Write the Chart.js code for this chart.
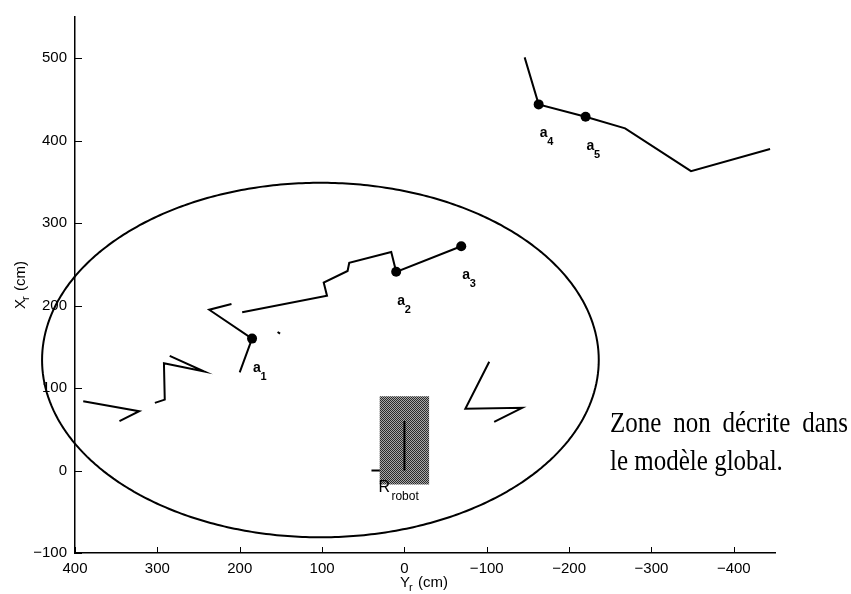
<!DOCTYPE html>
<html>
<head>
<meta charset="utf-8">
<script src="https://cdn.jsdelivr.net/npm/chart.js@4/dist/chart.umd.min.js"></script>
<style>
  html, body { margin: 0; padding: 0; background: #fff; }
  canvas { display: block; }
</style>
</head>
<body>
<canvas id="c" width="851" height="594"></canvas>
<script>
// Local map: Y_r (horizontal, reversed) vs X_r (vertical), in cm.
const xTicks = [400, 300, 200, 100, 0, -100, -200, -300, -400];
const yTicks = [-100, 0, 100, 200, 300, 400, 500];

// Wall segments seen by the sensor (Y_r, X_r)
const segLeftZig   = [[390, 84], [322, 72], [346, 60]];
const segMidZig    = [[303, 82], [291, 86], [292, 130], [243, 120], [285, 139]];
const segNearA1    = [[210, 202], [237, 195], [185, 160], [200, 119]];
const segSpeck     = [[154, 168], [151, 166]];
const segStairs    = [[197, 192], [94, 212], [98, 228], [69, 242], [67, 252], [16, 265], [10, 241], [-69, 272]];
const segRightZig  = [[-103, 132], [-74, 75], [-143, 76], [-109, 59]];
const segFar       = [[-146, 501], [-163, 444], [-220, 429], [-268, 415], [-348, 363], [-444, 390]];

// Landmarks a1..a5
const landmarks = [[185, 160], [10, 241], [-69, 272], [-163, 444], [-220, 429]];
const landmarkNames = ['1', '2', '3', '4', '5'];

// Sensor range ellipse: centre and semi-axes
const ellipseCentre = [102, 134];
const ellipseRadii = [338, 215];

// Robot footprint and its frame
const robotBox = [[30, -17], [-30, -17], [-30, 90], [30, 90], [30, -17]];
const robotAxisX = [[0, 0], [0, 60]];
const robotAxisY = [[40, 0], [0, 0]];

const toPts = arr => arr.map(([x, y]) => ({ x, y }));

function ellipsePoints() {
  const pts = [];
  for (let i = 0; i <= 240; i++) {
    const t = (i / 240) * Math.PI * 2;
    pts.push([ellipseCentre[0] + ellipseRadii[0] * Math.cos(t),
              ellipseCentre[1] + ellipseRadii[1] * Math.sin(t)]);
  }
  return pts;
}

// stippled grey fill for the robot body
function stipple() {
  const p = document.createElement('canvas');
  p.width = 2; p.height = 2;
  const g = p.getContext('2d');
  g.fillStyle = '#a8a8a8'; g.fillRect(0, 0, 2, 2);
  g.fillStyle = '#2a2a2a'; g.fillRect(0, 0, 1, 1); g.fillRect(1, 1, 1, 1);
  return g.createPattern(p, 'repeat');
}

const lineDs = (data, order, extra) => Object.assign({
  data: toPts(data), showLine: true, borderColor: '#000', borderWidth: 2,
  pointRadius: 0, fill: false, tension: 0, order, clip: false
}, extra || {});

const SANS = '"Liberation Sans", Arial, Helvetica, sans-serif';
const SERIF = '"Liberation Serif", "Times New Roman", serif';

// inward tick marks, axis titles and annotations
const decorations = {
  id: 'decorations',
  afterDraw(chart) {
    const ctx = chart.ctx;
    const xs = chart.scales.x, ys = chart.scales.y;
    const area = chart.chartArea;
    ctx.save();
    ctx.strokeStyle = '#000';
    ctx.lineWidth = 1;
    xTicks.forEach(v => {
      const px = Math.round(xs.getPixelForValue(v)) + 0.5;
      ctx.beginPath(); ctx.moveTo(px, area.bottom); ctx.lineTo(px, area.bottom - 6); ctx.stroke();
    });
    yTicks.forEach(v => {
      const py = Math.round(ys.getPixelForValue(v)) + 0.5;
      ctx.beginPath(); ctx.moveTo(area.left, py); ctx.lineTo(area.left + 7, py); ctx.stroke();
    });

    ctx.fillStyle = '#000';
    ctx.textBaseline = 'alphabetic';
    ctx.textAlign = 'left';

    // axis title with subscript: main, sub, rest
    function subTitle(main, sub, rest, size) {
      ctx.font = size + 'px ' + SANS;
      const wm = ctx.measureText(main).width;
      const wr = ctx.measureText(rest).width;
      ctx.font = Math.round(size * 0.7) + 'px ' + SANS;
      const ws = ctx.measureText(sub).width;
      const total = wm + ws + wr;
      let x = -total / 2;
      ctx.font = size + 'px ' + SANS;
      ctx.fillText(main, x, 0);
      x += wm;
      ctx.font = Math.round(size * 0.7) + 'px ' + SANS;
      ctx.fillText(sub, x - 1, 4);
      x += ws;
      ctx.font = size + 'px ' + SANS;
      ctx.fillText(rest, x, 0);
    }
    ctx.save();
    ctx.translate((area.left + area.right) / 2 - 1, 587);
    subTitle('Y', 'r', ' (cm)', 15);
    ctx.restore();
    ctx.save();
    ctx.translate(25, (area.top + area.bottom) / 2);
    ctx.rotate(-Math.PI / 2);
    subTitle('X', 'r', ' (cm)', 15);
    ctx.restore();

    // landmark labels
    landmarks.forEach(([x, y], i) => {
      const px = xs.getPixelForValue(x), py = ys.getPixelForValue(y);
      ctx.font = 'bold 14px ' + SANS;
      ctx.fillText('a', px + 1, py + 33);
      ctx.font = 'bold 11px ' + SANS;
      ctx.fillText(landmarkNames[i], px + 8.5, py + 41);
    });

    // robot frame label
    const ox = xs.getPixelForValue(0), oy = ys.getPixelForValue(0);
    ctx.font = '16px ' + SANS;
    ctx.fillText('R', ox - 26, oy + 21);
    ctx.font = '12px ' + SANS;
    ctx.fillText('robot', ox - 13, oy + 29);

    // note on the unmapped zone
    ctx.font = '25px ' + SERIF;
    const words = ['Zone', 'non', 'décrite', 'dans'];
    const left = 610, right = 848;
    const ww = words.map(w => ctx.measureText(w).width);
    const gap = (right - left - ww.reduce((a, b) => a + b, 0)) / (words.length - 1);
    let wx = left;
    words.forEach((w, i) => {
      ctx.save(); ctx.translate(wx, 432); ctx.scale(1, 1.15); ctx.fillText(w, 0, 0); ctx.restore();
      wx += ww[i] + gap;
    });
    ctx.save(); ctx.translate(left, 470); ctx.scale(1, 1.15); ctx.fillText('le modèle global.', 0, 0); ctx.restore();
    ctx.restore();
  }
};

const fmt = v => String(v).replace('-', '\u2212');

new Chart(document.getElementById('c'), {
  type: 'scatter',
  data: {
    datasets: [
      { data: toPts(landmarks), pointRadius: 5, pointBackgroundColor: '#000', pointBorderColor: '#000', pointBorderWidth: 0, showLine: false, order: 0, clip: false },
      lineDs(robotAxisX, 1),
      { data: toPts(robotBox), showLine: true, borderWidth: 0, borderColor: 'rgba(0,0,0,0)', backgroundColor: stipple(), fill: 'shape', pointRadius: 0, tension: 0, order: 2 },
      lineDs(robotAxisY, 3),
      lineDs(ellipsePoints(), 4, { tension: 0.0001, capBezierPoints: false }),
      lineDs(segLeftZig, 5),
      lineDs(segMidZig, 5),
      lineDs(segNearA1, 5),
      lineDs(segSpeck, 5),
      lineDs(segStairs, 5),
      lineDs(segRightZig, 5),
      lineDs(segFar, 5)
    ]
  },
  options: {
    responsive: false,
    animation: false,
    devicePixelRatio: 1,
    layout: { padding: { top: 12, right: 76, left: 0, bottom: 0 } },
    plugins: { legend: { display: false }, tooltip: { enabled: false } },
    elements: { line: { borderCapStyle: 'butt', borderJoinStyle: 'miter' } },
    scales: {
      x: {
        type: 'linear', reverse: true, min: -450, max: 400,
        afterFit: s => { s.height = 41; },
        border: { display: true, color: '#000', width: 1.5 },
        grid: { display: false, drawTicks: false },
        ticks: { stepSize: 100, includeBounds: false, color: '#000', padding: 7,
                 font: { family: SANS, size: 15 }, maxRotation: 0, callback: fmt }
      },
      y: {
        type: 'linear', min: -100, max: 550,
        afterFit: s => { s.width = 75; },
        border: { display: true, color: '#000', width: 1.5 },
        grid: { display: false, drawTicks: false },
        ticks: { stepSize: 100, includeBounds: false, color: '#000', padding: 8,
                 font: { family: SANS, size: 15 }, callback: fmt }
      }
    }
  },
  plugins: [decorations]
});
</script>
</body>
</html>
